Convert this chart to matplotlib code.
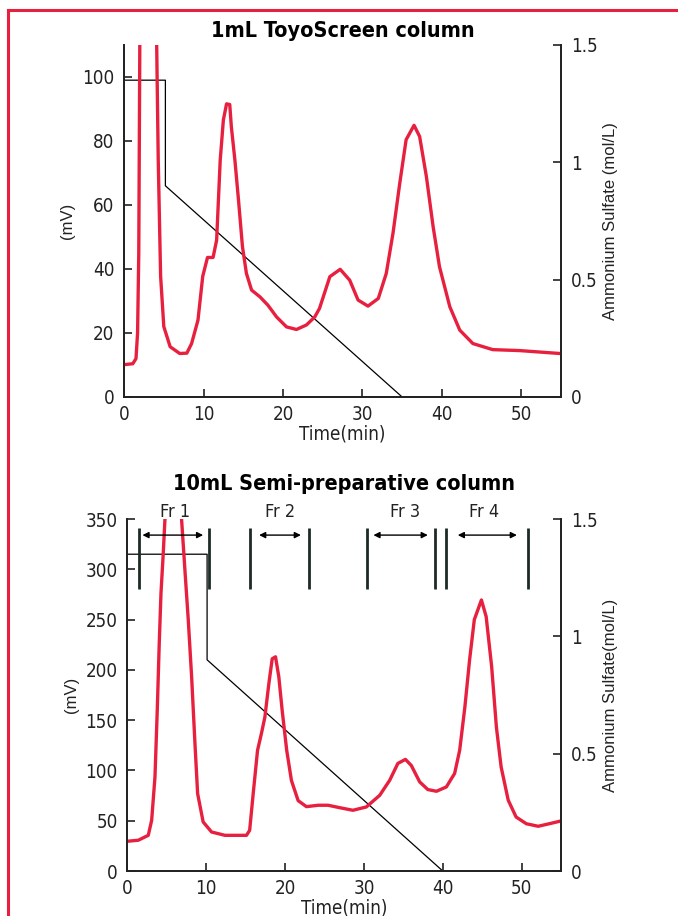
import matplotlib
matplotlib.use('Agg')
from matplotlib import pyplot as plt
from matplotlib import font_manager as fm
from matplotlib.lines import Line2D
import matplotlib as mpl

# look for a condensed face (the brochure uses a condensed grotesque)
COND, STRETCH = 'Liberation Sans', 'normal'
for f in fm.fontManager.ttflist:
    if 'Narrow' in f.name or 'Condensed' in f.name:
        COND, STRETCH = f.name, f.stretch
        break
    if f.stretch in ('condensed', 'semi-condensed') and f.name in ('DejaVu Sans', 'Roboto', 'Noto Sans', 'Open Sans'):
        COND, STRETCH = f.name, f.stretch
        break

mpl.rc('font', family=[COND, 'DejaVu Sans'], stretch=STRETCH)
PLAIN = ['Liberation Sans', 'DejaVu Sans']

RED = '#e8203f'
MARK = '#1d2b25'
INK = '#222222'

# ---- top chart: 1mL ToyoScreen column ----
t1 = [0, 1.1, 1.5, 1.7, 1.85, 2.0, 3.1, 4.05, 4.3, 4.6, 5.0, 5.8, 7.0, 7.9, 8.5,
      9.3, 9.9, 10.5, 11.2, 11.65, 12.1, 12.5, 12.9, 13.3, 13.5, 13.95, 14.4, 14.9, 15.4,
      16.05, 17.1, 18.1, 19.2, 20.45, 21.7, 22.95, 24.0, 24.6, 25.9, 27.2, 28.4, 29.45,
      30.7, 32.0, 33.0, 33.85, 34.7, 35.5, 36.5, 37.2, 38.05, 38.9, 39.7, 41.0, 42.25,
      43.9, 46.4, 49.8, 54.8]
mv1 = [10.1, 10.4, 12, 20, 45, 120, 160, 120, 74, 37.7, 22, 15.7, 13.6, 13.7, 16.7,
       24, 37.7, 43.6, 43.6, 49, 74, 86.6, 91.6, 91.4, 84.5, 74, 61.6, 47, 38.6,
       33.4, 31.3, 28.7, 25.0, 21.9, 21.1, 22.5, 25, 27.7, 37.6, 39.9, 36.5, 30.3,
       28.4, 30.8, 38.6, 51.2, 66.8, 80.4, 84.9, 81.4, 68.9, 53.2, 40.7, 28.2, 20.9,
       16.7, 14.8, 14.5, 13.6]
grad1_t = [0, 5.2, 5.2, 35]
grad1_c = [1.35, 1.35, 0.9, 0]

# ---- bottom chart: 10mL Semi-preparative column ----
t2 = [0, 1.37, 2.64, 3.07, 3.49, 3.78, 4.03, 4.25, 4.54, 4.75, 5.8, 6.87, 7.29, 7.71,
      8.14, 8.56, 8.9, 9.6, 10.67, 12.36, 15.1, 15.5, 15.95, 16.5, 17.0, 17.43, 17.93,
      18.36, 18.78, 19.2, 19.62, 20.2, 20.8, 21.65, 22.7, 24.2, 25.45, 26.9, 28.6, 30.3,
      32.0, 33.27, 34.3, 35.26, 36.0, 37.07, 38.1, 39.2, 40.45, 41.5, 42.14, 42.8, 43.4,
      44.0, 44.9, 45.5, 46.2, 46.8, 47.4, 48.3, 49.3, 50.6, 52.1, 53.5, 55.0]
mv2 = [29.6, 30.6, 35.5, 50.5, 93.6, 160, 226, 276, 316, 349, 420, 349, 299, 250,
       193, 127, 77, 48.8, 38.8, 35.5, 35.5, 40.5, 77, 120, 137, 153, 186,
       211, 213, 193, 160, 120, 90, 70, 64, 65.4, 65.4, 63, 60.4, 63.7,
       75.3, 90.3, 107, 111, 105, 88.6, 81, 79.3, 83.6, 97, 120, 163, 210,
       250, 269.5, 253, 203, 143, 103.5, 70.4, 53.7, 47, 44.5, 47, 49.8]
grad2_t = [0, 10.1, 10.1, 40]
grad2_c = [1.35, 1.35, 0.9, 0]

frac_cuts = [1.5, 10.4, 15.6, 23.0, 30.4, 39.0, 40.4, 50.8]
frac_names = ['Fr 1', 'Fr 2', 'Fr 3', 'Fr 4']
frac_arrows = [(1.9, 9.6), (16.7, 22.0), (31.2, 38.1), (41.9, 49.4)]
frac_centers = [6.0, 19.3, 35.2, 45.2]


def style_axes(ax, ax2, ymax, yticks, right_label):
    ax.set_xlim(0, 55)
    ax.set_ylim(0, ymax)
    ax2.set_ylim(0, 1.5)
    ax.set_xticks([0, 10, 20, 30, 40, 50])
    ax.set_yticks(yticks)
    ax2.set_yticks([0, 0.5, 1, 1.5])
    ax2.set_yticklabels(['0', '0.5', '1', '1.5'])
    for a in (ax, ax2):
        a.spines['top'].set_visible(False)
        for s in a.spines.values():
            s.set_linewidth(1.3)
            s.set_color(INK)
        a.tick_params(direction='in', length=6, width=1.2, labelsize=13.5, colors=INK, pad=7)
    ax.tick_params(axis='x', pad=6)
    ax.set_xlabel('Time(min)', fontsize=13.5, labelpad=0, color=INK)
    ax.set_ylabel('(mV)', fontsize=12, family=PLAIN, stretch='normal', color=INK, labelpad=5)
    ax2.set_ylabel(right_label, fontsize=12, family=PLAIN, stretch='normal', color=INK,
                   labelpad=4)


fig = plt.figure(figsize=(6.78, 9.16), dpi=100)

# top panel
ax = fig.add_axes([0.183, 0.5666, 0.6445, 0.3843])
ax2 = ax.twinx()
ax2.plot(grad1_t, grad1_c, color='black', lw=0.9)
ax.plot(t1, mv1, color=RED, lw=2.4)
ax.set_zorder(ax2.get_zorder() + 1)
ax.patch.set_visible(False)
style_axes(ax, ax2, 110, [0, 20, 40, 60, 80, 100], 'Ammonium Sulfate (mol/L)')
ax.set_title('1mL ToyoScreen column', fontsize=15.5, fontweight='bold', pad=6)

# bottom panel
bx = fig.add_axes([0.188, 0.0491, 0.6395, 0.3843])
bx2 = bx.twinx()
bx2.plot(grad2_t, grad2_c, color='black', lw=0.9)
bx.plot(t2, mv2, color=RED, lw=2.4)
bx.set_zorder(bx2.get_zorder() + 1)
bx.patch.set_visible(False)
style_axes(bx, bx2, 350, [0, 50, 100, 150, 200, 250, 300, 350], 'Ammonium Sulfate(mol/L)')
bx.set_title('10mL Semi-preparative column', fontsize=15.5, fontweight='bold', pad=21)

bx.vlines(frac_cuts, 280, 341, color=MARK, lw=2)
for (a, b), name, c in zip(frac_arrows, frac_names, frac_centers):
    bx.annotate('', xy=(b, 334), xytext=(a, 334),
                arrowprops=dict(arrowstyle='<|-|>', color='black', lw=1, mutation_scale=9,
                                shrinkA=0, shrinkB=0))
    bx.text(c, 357, name, ha='center', va='center', fontsize=13, color=INK)

# red frame, top and left only
fig.add_artist(Line2D([0.012, 1.0], [0.989, 0.989], color=RED, lw=2.2))
fig.add_artist(Line2D([0.012, 0.012], [0.0, 0.989], color=RED, lw=2.2))

fig.savefig('out.png', dpi=100)
